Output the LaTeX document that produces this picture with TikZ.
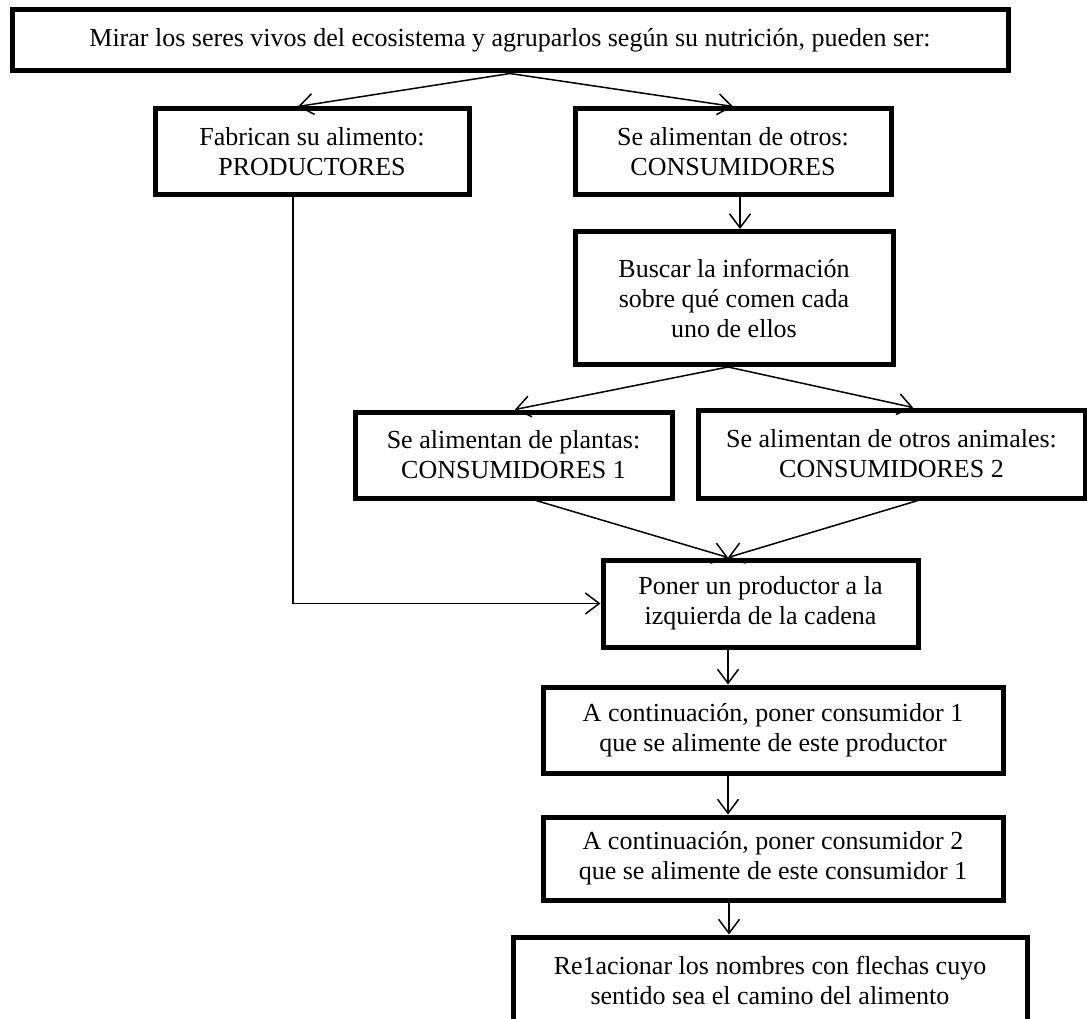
\documentclass[tikz,border=0pt]{standalone}
\usepackage{fontspec}
\setmainfont{Liberation Serif}
\usetikzlibrary{arrows.meta}
\begin{document}
\begin{tikzpicture}[x=1pt,y=-1pt,
  stepbox/.style={draw,line width=5pt,inner sep=0pt,align=center,
    font=\fontsize{26}{30}\selectfont},
  flow/.style={line width=1.5pt,-{Straight Barb[length=14pt,width=21pt,line width=1.5pt]}}]
\useasboundingbox (0,0) rectangle (1087,1019);

% boxes
\node[stepbox,minimum width=996pt,minimum height=61pt] (T) at (510,40.5)
  {Mirar los seres vivos del ecosistema y agruparlos según su nutrición, pueden ser:};
\node[stepbox,minimum width=314pt,minimum height=86pt] (F) at (312,152)
  {Fabrican su alimento:\\PRODUCTORES};
\node[stepbox,minimum width=316pt,minimum height=86pt] (C) at (733,152)
  {Se alimentan de otros:\\CONSUMIDORES};
\node[stepbox,minimum width=318pt,minimum height=133pt] (B) at (734,298)
  {Buscar la información\\sobre qué comen cada\\uno de ellos};
\node[stepbox,minimum width=317pt,minimum height=86pt] (P1) at (513.5,455)
  {Se alimentan de plantas:\\CONSUMIDORES 1};
\node[stepbox,minimum width=387pt,minimum height=88pt] (P2) at (891.5,454)
  {Se alimentan de otros animales:\\CONSUMIDORES 2};
\node[stepbox,minimum width=315pt,minimum height=87pt] (Q) at (760.5,603.5)
  {Poner un productor a la\\izquierda de la cadena};
\node[stepbox,minimum width=460pt,minimum height=86pt] (A1) at (773,730)
  {A continuación, poner consumidor 1\\que se alimente de este productor};
\node[stepbox,minimum width=460pt,minimum height=83pt] (A2) at (773,858.5)
  {A continuación, poner consumidor 2\\que se alimente de este consumidor 1};
\node[stepbox,minimum width=514pt,minimum height=86pt] (R) at (770,980)
  {Re1acionar los nombres con flechas cuyo\\sentido sea el camino del alimento};

% connectors
\draw[flow] (T.south) -- ([xshift=-14pt]F.north);
\draw[flow] (T.south) -- (C.north);
\draw[flow] ([xshift=7pt]C.south) -- ([xshift=6pt]B.north);
\draw[flow] ([xshift=-6pt]B.south) -- ([xshift=1.5pt]P1.north);
\draw[flow] ([xshift=-6pt]B.south) -- ([xshift=21.5pt]P2.north);
\draw[flow] ([xshift=22.5pt]P1.south) -- ([xshift=-32.5pt]Q.north);
\draw[flow] ([xshift=26.5pt]P2.south) -- ([xshift=-32.5pt]Q.north);
\draw[flow] ([xshift=-19pt]F.south) |- (Q.west);
\draw[flow] ([xshift=-32.5pt]Q.south) -- ([xshift=-45pt]A1.north);
\draw[flow] ([xshift=-45pt]A1.south) -- ([xshift=-45pt]A2.north);
\draw[flow] ([xshift=-44pt]A2.south) -- ([xshift=-41pt]R.north);
\end{tikzpicture}
\end{document}
